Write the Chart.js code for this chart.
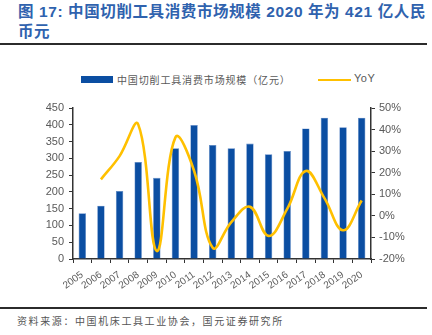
<!DOCTYPE html>
<html>
<head>
<meta charset="utf-8">
<script src="https://cdn.jsdelivr.net/npm/chart.js@4/dist/chart.umd.min.js"></script>
<style>
  html, body { margin: 0; padding: 0; background: #fff; }
  body { width: 432px; height: 335px; position: relative; overflow: hidden; font-family: "Liberation Sans", Arial, sans-serif; }
  .title { position: absolute; left: 18px; top: 2px; width: 410px; color: #2F62AE; font-family: "Liberation Sans", "Noto Sans CJK SC", sans-serif; font-weight: bold; font-size: 15.5px; line-height: 20px; letter-spacing: 0.6px; }
  .rule-top { position: absolute; left: 0; top: 43px; width: 427px; height: 2px; background: #2b2b2b; }
  .rule-bot { position: absolute; left: 0; top: 307px; width: 427px; height: 1.5px; background: #2b2b2b; }
  .source { position: absolute; left: 17px; top: 313px; color: #555; font-family: "Noto Sans CJK SC", sans-serif; font-size: 10px; letter-spacing: 1.6px; }
  .legend { position: absolute; top: 72px; left: 0; height: 14px; font-family: "Noto Sans CJK SC", sans-serif; font-size: 10px; color: #595959; }
  .legend .sw-bar { position: absolute; left: 81px; top: 4px; width: 32px; height: 7px; background: #0B4EA2; }
  .legend .t1 { position: absolute; left: 117px; top: 0; white-space: nowrap; letter-spacing: 0.85px; }
  .legend .sw-line { position: absolute; left: 318px; top: 6.5px; width: 33px; height: 2.5px; background: #FFC000; }
  .legend .t2 { position: absolute; left: 354px; top: 0; font-family: "Liberation Sans", Arial, sans-serif; font-size: 11px; letter-spacing: 0.5px; }
  #wrap { position: absolute; left: 0; top: 90px; width: 432px; height: 212px; }
</style>
</head>
<body>
<div class="title">图 17: 中国切削工具消费市场规模 2020 年为 421 亿人民<br>币元</div>
<div class="rule-top"></div>
<div class="legend">
  <div class="sw-bar"></div><div class="t1">中国切削工具消费市场规模（亿元）</div>
  <div class="sw-line"></div><div class="t2">YoY</div>
</div>
<div id="wrap"><canvas id="c" width="432" height="212"></canvas></div>
<div class="rule-bot"></div>
<div class="source">资料来源：中国机床工具工业协会，国元证券研究所</div>
<script>
// Market size (100 million yuan) and year-on-year growth (%)
const years = ['2005','2006','2007','2008','2009','2010','2011','2012','2013','2014','2015','2016','2017','2018','2019','2020'];
const marketSize = [136, 159, 203, 289, 242, 330, 399, 340, 330, 344, 312, 322, 389, 421, 393, 421];
const yoy = [null, 16.9, 27.7, 42.4, -16.3, 36.4, 20.9, -14.8, -2.9, 4.2, -9.3, 3.2, 20.8, 8.2, -6.7, 7.1];
const leftTicks = [0, 50, 100, 150, 200, 250, 300, 350, 400, 450];
const rightTicks = [-20, -10, 0, 10, 20, 30, 40, 50];

const tickFont = { family: '"Liberation Sans", Arial, sans-serif', size: 11 };
const tickColor = '#595959';
const axisColor = '#333333';

new Chart(document.getElementById('c'), {
  data: {
    labels: years,
    datasets: [
      {
        type: 'line',
        label: 'YoY',
        data: yoy,
        yAxisID: 'y1',
        borderColor: '#FFC000',
        borderWidth: 2.6,
        tension: 0.4,
        pointRadius: 0,
        spanGaps: false,
        order: 0
      },
      {
        type: 'bar',
        label: '中国切削工具消费市场规模（亿元）',
        data: marketSize,
        yAxisID: 'y',
        backgroundColor: '#0B4EA2',
        borderColor: '#5C87C6',
        borderWidth: { left: 0.6, right: 0.6, top: 0.6, bottom: 0 },
        barPercentage: 0.4,
        categoryPercentage: 1,
        order: 1
      }
    ]
  },
  options: {
    responsive: false,
    animation: false,
    devicePixelRatio: 1,
    layout: { padding: { top: 18, left: 0, right: 0, bottom: 0 } },
    plugins: { legend: { display: false }, tooltip: { enabled: false } },
    scales: {
      x: {
        offset: true,
        grid: { display: true, drawOnChartArea: false, drawTicks: true, tickLength: 4, color: axisColor, offset: true },
        border: { display: true, color: axisColor, width: 1.5 },
        ticks: { font: { family: tickFont.family, size: 10 }, color: tickColor, minRotation: 35, maxRotation: 35, autoSkip: false, padding: 6 },
        afterFit(s) { s.height = 43; }
      },
      y: {
        position: 'left',
        min: 0, max: 450,
        afterBuildTicks(s) { s.ticks = leftTicks.map(v => ({ value: v })); },
        grid: { display: true, drawOnChartArea: false, drawTicks: true, tickLength: 4, color: axisColor },
        border: { display: true, color: axisColor, width: 1.5 },
        ticks: { font: tickFont, color: tickColor, padding: 5 },
        afterFit(s) { s.width = 73; }
      },
      y1: {
        position: 'right',
        min: -20, max: 50,
        afterBuildTicks(s) { s.ticks = rightTicks.map(v => ({ value: v })); },
        grid: { display: true, drawOnChartArea: false, drawTicks: true, tickLength: 4, color: axisColor },
        border: { display: true, color: axisColor, width: 1.5 },
        ticks: { font: tickFont, color: tickColor, padding: 4, callback: v => v + '%' },
        afterFit(s) { s.width = 61; }
      }
    }
  }
});
</script>
</body>
</html>
